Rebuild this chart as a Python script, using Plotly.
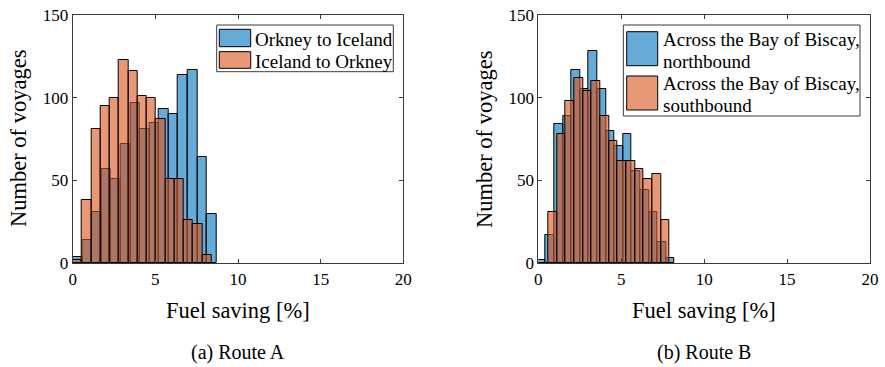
import numpy as np
import plotly.graph_objects as go

# Histogram counts (voyages per fuel-saving bin, %) and their bin layout
route_a_out_counts = [4, 14, 31, 57, 51, 72, 97, 81, 85, 93, 90, 114, 117, 64, 30]   # Orkney to Iceland
route_a_out_bins = (0.0, 0.58)          # first edge, bin width
route_a_back_counts = [2, 38, 81, 95, 100, 123, 116, 101, 100, 87, 51, 51, 26, 24, 5]  # Iceland to Orkney
route_a_back_bins = (0.0, 0.5607)

route_b_north_counts = [2, 17, 84, 89, 117, 105, 128, 105, 80, 71, 78, 56, 44, 31, 13, 3]
route_b_north_bins = (-0.08, 0.519)
route_b_south_counts = [0, 31, 78, 98, 112, 104, 110, 89, 74, 62, 62, 57, 51, 54, 26]
route_b_south_bins = (0.08, 0.5225)

x_ticks = [0, 5, 10, 15, 20]
y_ticks = [0, 50, 100, 150]

BLUE = "rgba(0,114,189,0.6)"
ORANGE = "rgba(217,83,25,0.6)"
SERIF = "Liberation Serif"
W, H = 885, 367


def px(x):
    return x / W


def py(y):
    return 1 - y / H


def hist_trace(counts, bins, color, xaxis, yaxis):
    start, width = bins
    centers = [start + width * (i + 0.5) for i in range(len(counts))]
    return go.Bar(
        x=centers, y=counts, width=width,
        marker=dict(color=color, line=dict(color="black", width=1)),
        xaxis=xaxis, yaxis=yaxis, showlegend=False, hoverinfo="skip",
    )


fig = go.Figure()
fig.add_trace(hist_trace(route_a_out_counts, route_a_out_bins, BLUE, "x", "y"))
fig.add_trace(hist_trace(route_a_back_counts, route_a_back_bins, ORANGE, "x", "y"))
fig.add_trace(hist_trace(route_b_north_counts, route_b_north_bins, BLUE, "x2", "y2"))
fig.add_trace(hist_trace(route_b_south_counts, route_b_south_bins, ORANGE, "x2", "y2"))

axis_common = dict(
    showgrid=False, zeroline=False, showline=True, linecolor="#3a3a3a", linewidth=1,
    mirror="allticks", ticks="inside", ticklen=4, tickwidth=1, tickcolor="#3a3a3a",
    tickfont=dict(family=SERIF, size=17, color="black"), automargin=False,
)
ydom = [py(263.3), py(15)]
fig.update_layout(
    width=W, height=H, margin=dict(l=0, r=0, t=0, b=0),
    paper_bgcolor="white", plot_bgcolor="white", barmode="overlay", bargap=0,
    font=dict(family=SERIF, color="black"),
    xaxis=dict(domain=[px(72.7), px(403.3)], range=[0, 20], tickvals=x_ticks, anchor="y", **axis_common),
    yaxis=dict(domain=ydom, range=[0, 150], tickvals=y_ticks, anchor="x", **axis_common),
    xaxis2=dict(domain=[px(538.3), px(870)], range=[0, 20], tickvals=x_ticks, anchor="y2", **axis_common),
    yaxis2=dict(domain=ydom, range=[0, 150], tickvals=y_ticks, anchor="x2", **axis_common),
)

shapes = []
annotations = []


def text(x, y, s, size, xanchor="center", angle=0):
    annotations.append(dict(
        x=px(x), y=py(y), xref="paper", yref="paper", text=s, showarrow=False,
        xanchor=xanchor, yanchor="middle", textangle=angle,
        font=dict(family=SERIF, size=size, color="black"),
    ))


def rect(x0, y0, x1, y1, fill, line="black", lw=1):
    shapes.append(dict(
        type="rect", xref="paper", yref="paper",
        x0=px(x0), x1=px(x1), y0=py(y1), y1=py(y0),
        fillcolor=fill, line=dict(color=line, width=lw),
    ))


# axis titles and captions
for cx in (238, 704):
    text(cx, 310, "Fuel saving [%]", 22.5)
for cx in (19, 485):
    text(cx, 139, "Number of voyages", 22.5, angle=-90)
text(238, 352, "(a) Route A", 20)
text(704, 352, "(b) Route B", 20)

# legend, route A
rect(216.7, 25, 393.3, 71.7, "white", line="#3a3a3a")
rect(219.3, 29.3, 250.7, 46.7, BLUE)
rect(219.3, 51.7, 250.7, 68.3, ORANGE)
text(253.3, 39.3, "Orkney to Iceland", 19, xanchor="left")
text(253.3, 61, "Iceland to Orkney", 19, xanchor="left")

# legend, route B
rect(623.3, 25, 860, 116, "white", line="#3a3a3a")
rect(626.7, 31.7, 657.7, 65.7, BLUE)
rect(626.7, 76, 657.7, 110, ORANGE)
text(661, 39.3, "Across the Bay of Biscay,", 19, xanchor="left")
text(661, 61, "northbound", 19, xanchor="left")
text(661, 83.3, "Across the Bay of Biscay,", 19, xanchor="left")
text(661, 105, "southbound", 19, xanchor="left")

fig.update_layout(shapes=shapes, annotations=annotations)
fig.write_html("out.html")
